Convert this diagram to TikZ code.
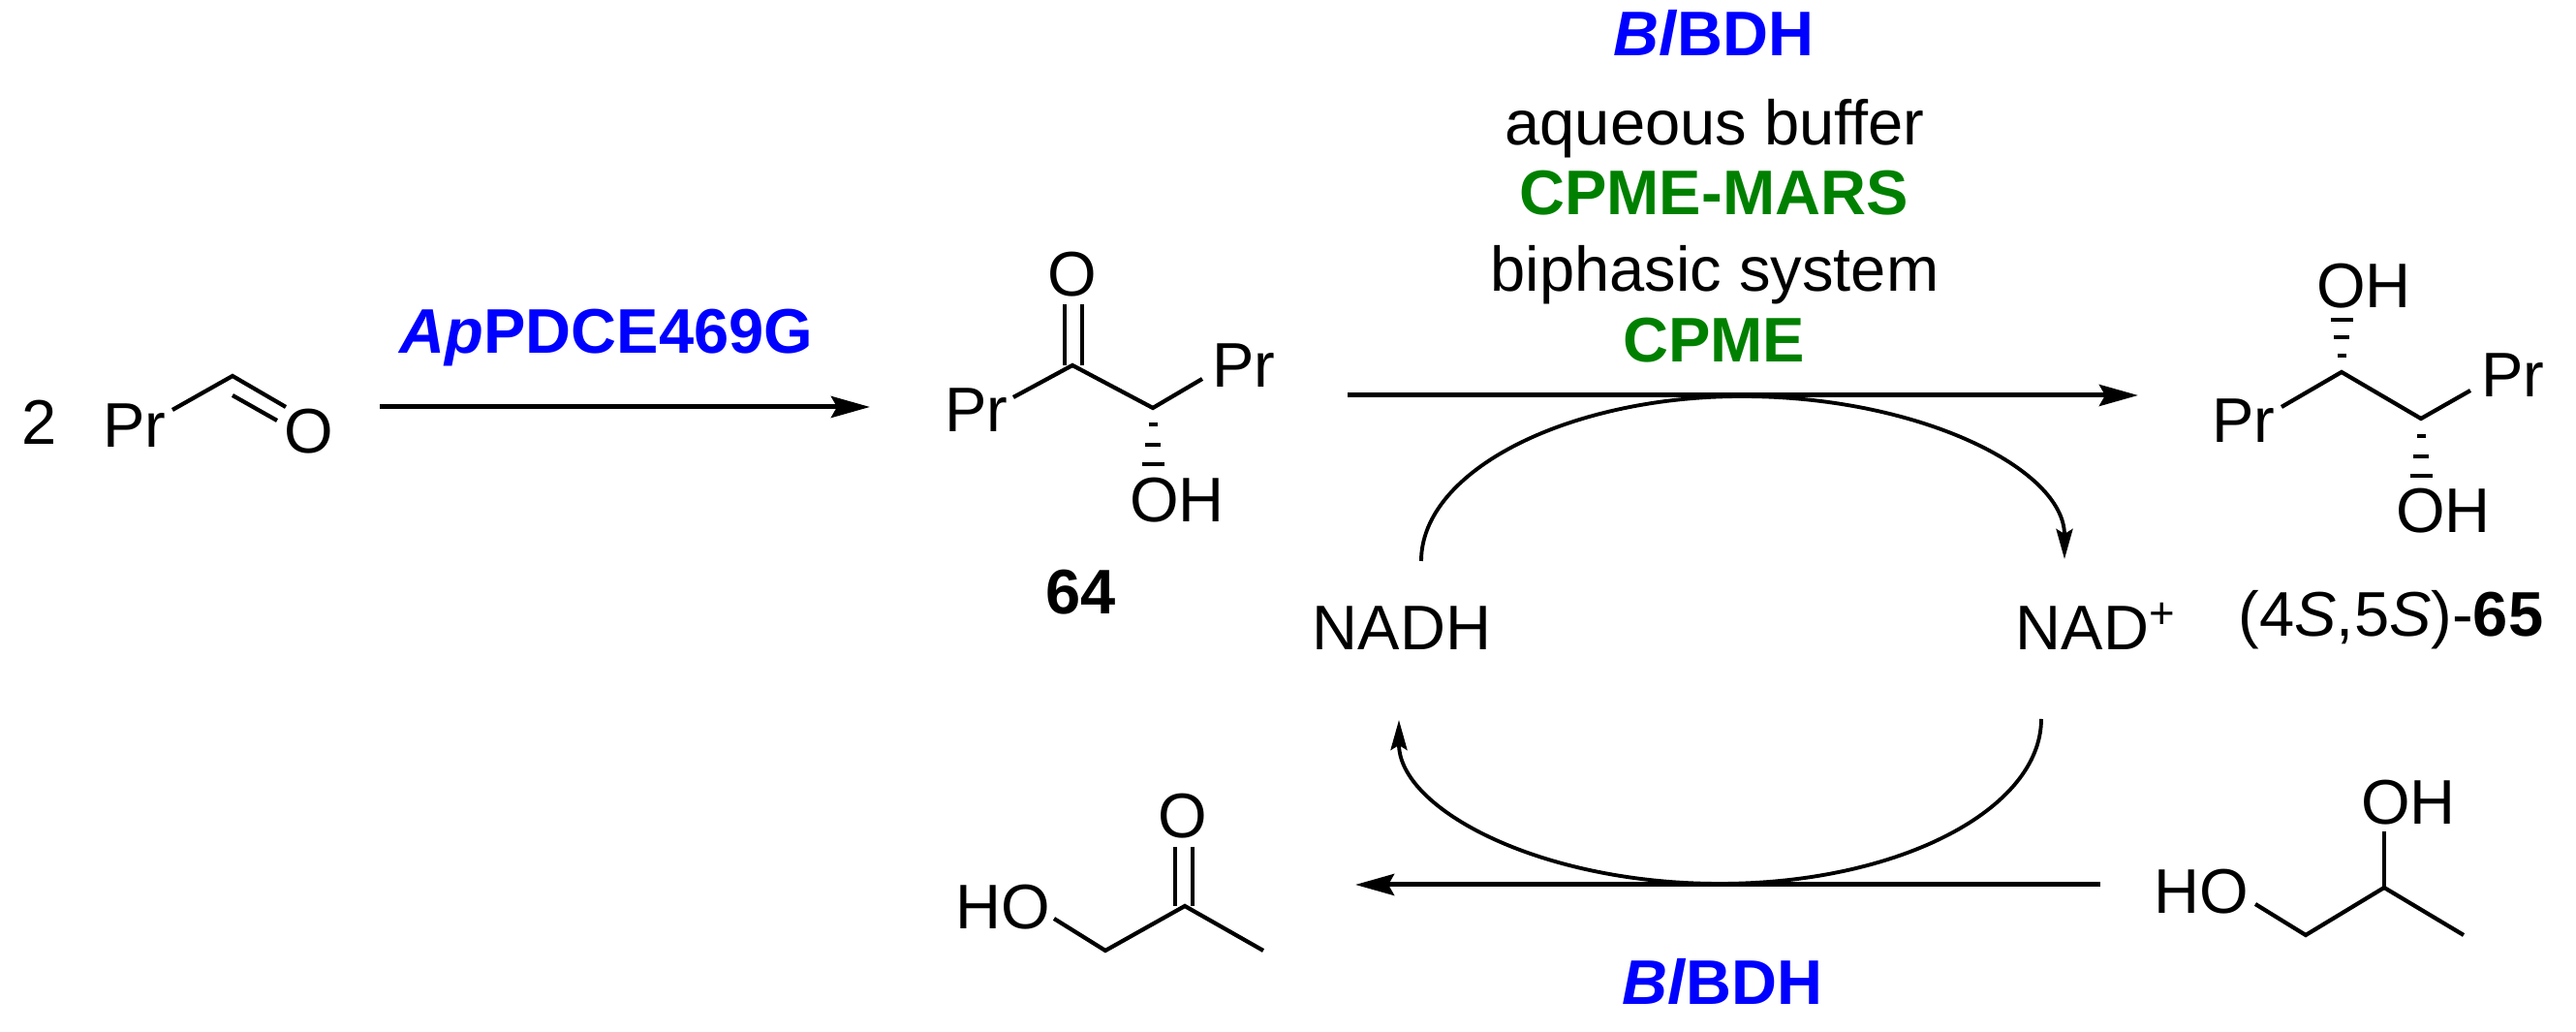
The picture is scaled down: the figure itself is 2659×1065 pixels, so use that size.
\documentclass[tikz,border=0pt]{standalone}
\usepackage{fontspec}
\setmainfont{Liberation Sans}
\usetikzlibrary{arrows.meta}

\definecolor{enzymeblue}{RGB}{0,0,255}
\definecolor{solventgreen}{RGB}{0,128,0}

\tikzset{
  chemlabel/.style={anchor=base, inner sep=0pt, font=\fontsize{18.5}{22}\selectfont},
  enzyme/.style={chemlabel, text=enzymeblue, font=\fontsize{18.5}{22}\selectfont\bfseries},
  solvent/.style={chemlabel, text=solventgreen, font=\fontsize{18.5}{22}\selectfont\bfseries},
  bond/.style={line width=1.2pt},
  reaction/.style={line width=1.42pt, -{Stealth[length=0.40cm, width=0.22cm, inset=0.06cm]}},
  cofactor/.style={line width=1.1pt, -{Stealth[length=0.31cm, width=0.17cm, inset=0.05cm]}},
}

\begin{document}
\begin{tikzpicture}[x=0.01cm, y=-0.01cm]
    \useasboundingbox (0,0) rectangle (2659,1065);

    % Plain labels
    \foreach \n/\x/\y/\t in {
        two/41/459/2, prA/139/462/Pr, oA/319/468/O,
        oB/1107/306/O, prB/1008/446/Pr, prC/1284/400/Pr, ohB/1215/539/OH, lb64/1116/634/\textbf{64},
        buffer/1770/150/aqueous buffer, biphasic/1770/301/biphasic system,
        ohC/2440/318/OH, prD/2316/457/Pr, prE/2594/410/Pr, ohD/2522/550/OH,
        lb65/2468/657/{(4\textit{S},5\textit{S})-\textbf{65}},
        nadh/1447/671/NADH,
        hoF/1035/959/HO, oF/1221/865/O,
        hoG/2272/943/HO, ohG/2486/851/OH} {
      \node[chemlabel] (\n) at (\x,\y) {\t};
    }
    \node[chemlabel, anchor=base west] (nad) at (2080,671) {NAD\textsuperscript{+}};

    % Enzymes and solvents
    \node[enzyme] (pdc) at (626,365) {\textit{Ap}PDCE469G};
    \node[enzyme] (bdhTop) at (1769,58) {\textit{Bl}BDH};
    \node[enzyme] (bdhBottom) at (1778,1037) {\textit{Bl}BDH};
    \node[solvent] (mars) at (1769,222) {CPME-MARS};
    \node[solvent] (cpme) at (1769,374) {CPME};

    % Aldehyde
    \coordinate (a1) at (178,423);
    \coordinate (a2) at (240,388);
    \draw[bond] (a1) -- (a2) -- (295,420);
    \draw[bond] (240,408) -- (286,434);

    % Ketol 64
    \coordinate (b1) at (1107,377);
    \coordinate (b2) at (1190,421);
    \draw[bond] (1046,410) -- (b1) -- (b2) -- (1241,391);
    \draw[bond] (1099,314) -- (1099,377);
    \draw[bond] (1117,314) -- (1117,377);

    % Diol 65
    \coordinate (c1) at (2417,384);
    \coordinate (c2) at (2499,432);
    \draw[bond] (2355,420) -- (c1) -- (c2) -- (2550,403);

    % Hashed bonds
    \foreach \x/\ya/\yb/\yc in {1190/438/459/479, 2417/367/348/330, 2499/450/471/491} {
      \draw[line width=1.2pt] (\x-4.5,\ya) -- (\x+4.5,\ya);
      \draw[line width=1.2pt] (\x-8,\yb) -- (\x+8,\yb);
      \draw[line width=1.2pt] (\x-11.5,\yc) -- (\x+11.5,\yc);
    }

    % Hydroxyacetone
    \coordinate (f1) at (1141,981);
    \coordinate (f2) at (1223,935);
    \draw[bond] (1088,948) -- (f1) -- (f2) -- (1304,981);
    \draw[bond] (1213,874) -- (1213,935);
    \draw[bond] (1231,874) -- (1231,935);

    % Propanediol
    \coordinate (g1) at (2380,965);
    \coordinate (g2) at (2461,916);
    \draw[bond] (2328,933) -- (g1) -- (g2) -- (2543,965);
    \draw[bond] (g2) -- (2461,858);

    % Reaction arrows
    \coordinate (r1s) at (392,420);
    \coordinate (r1e) at (898,420);
    \coordinate (r2s) at (1391,408);
    \coordinate (r2e) at (2207,408);
    \coordinate (r3s) at (2168,913);
    \coordinate (r3e) at (1399,913);
    \draw[reaction] (r1s) -- (r1e);
    \draw[reaction] (r2s) -- (r2e);
    \draw[reaction] (r3s) -- (r3e);

    % Cofactor cycle
    \coordinate (k1) at (1467,579);
    \coordinate (k2) at (2131,577);
    \coordinate (k3) at (2107,742);
    \coordinate (k4) at (1444,743);
    \draw[cofactor] (k1) .. controls (1467,485) and (1620,409) .. (1798,409) .. controls (1981,409) and (2131,484) .. (k2);
    \draw[cofactor] (k3) .. controls (2107,835) and (1960,912) .. (1775,912) .. controls (1590,912) and (1444,835) .. (k4);
\end{tikzpicture}
\end{document}
